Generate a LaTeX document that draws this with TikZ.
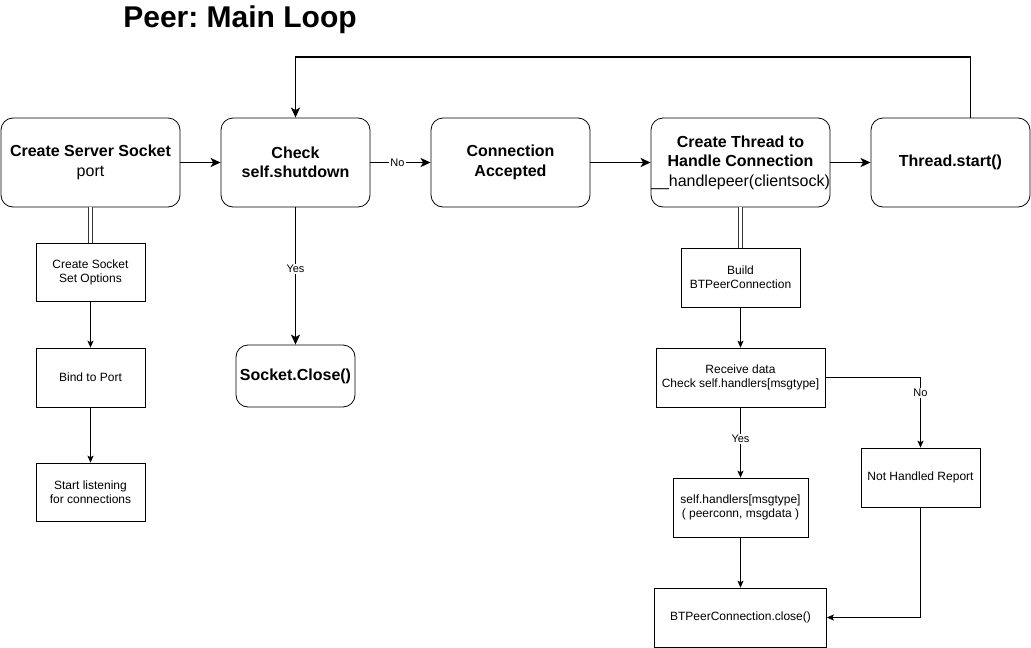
\documentclass[tikz,border=0pt]{standalone}
\usepackage{fontspec}
\setmainfont{Liberation Sans}
\usetikzlibrary{arrows.meta,positioning}

\begin{document}
\begin{tikzpicture}[x=1pt,y=-1pt,on grid,
   big/.style={draw,rounded corners=12pt,inner sep=0pt,minimum height=89pt,align=center,
     font=\fontsize{16}{19.5}\selectfont\bfseries,line width=0.8pt},
   small/.style={draw,inner sep=0pt,minimum height=59pt,align=center,
     font=\fontsize{12}{14}\selectfont,line width=0.7pt},
   bigarrow/.style={-{Stealth[length=10pt,width=9pt,inset=2.5pt]},line width=1.6pt},
   smallarrow/.style={-{Stealth[length=7pt,width=6pt,inset=1.5pt]},line width=0.8pt},
   dbl/.style={double,double distance=2.4pt,line width=0.9pt,draw=black!80},
   lbl/.style={fill=white,inner sep=1pt,font=\fontsize{11}{13}\selectfont}]
   \useasboundingbox (0,0) rectangle (1031,648);
   % title
   \node (title) at (240,19.5) {\fontsize{30}{34}\selectfont\bfseries\frenchspacing Peer: Main Loop};
   % main loop row
   \node[big,minimum width=179pt] (css) at (90.5,162.5) {Create Server Socket\\\mdseries port};
   \node[big,minimum width=149pt] (chk) [right=205pt of css] {Check\\self.shutdown};
   \node[big,minimum width=159pt] (conn) [right=215pt of chk] {Connection\\Accepted};
   \node[big,minimum width=179pt] (thr) [right=230pt of conn] {Create Thread to\\Handle Connection\\\mdseries\_\_handlepeer(clientsock)};
   \node[big,minimum width=159pt] (start) [right=210pt of thr] {Thread.start()};
   \node[big,minimum width=119pt,minimum height=62pt] (close) [below=213.5pt of chk] {Socket.Close()};
   % server socket setup
   \node[small,minimum width=109pt,minimum height=58pt] (opts) [below=109.5pt of css] {Create Socket\\Set Options};
   \node[small,minimum width=109pt] (bind) [below=105.5pt of opts] {Bind to Port};
   \node[small,minimum width=109pt,minimum height=58pt] (listen) [below=114.5pt of bind] {Start listening\\for connections};
   % peer handler
   \node[small,minimum width=119pt] (build) [below=115pt of thr] {Build\\BTPeerConnection};
   \node[small,minimum width=169pt] (recv) [below=100pt of build] {Receive data\\Check self.handlers[msgtype]};
   \node[small,minimum width=135pt] (hand) [below=130pt of recv] {self.handlers[msgtype]\\( peerconn, msgdata )};
   \node[small,minimum width=172pt] (bclose) [below=110pt of hand] {BTPeerConnection.close()};
   \node[small,minimum width=119pt] (nothr) [below right=100pt and 180pt of recv] {Not Handled Report};

   \draw[bigarrow] (css) -- (chk);
   \draw[bigarrow] (chk) -- node[lbl,pos=0.45] {No} (conn);
   \draw[bigarrow] (conn) -- (thr);
   \draw[bigarrow] (thr) -- (start);
   \coordinate (looptop) at (0,57);
   \draw[bigarrow] ([xshift=20pt]start.north) |- (looptop -| chk.north) -- (chk.north);
   \draw[bigarrow] (chk) -- node[lbl,pos=0.45] {Yes} (close);

   \draw[dbl] (css) -- (opts);
   \draw[smallarrow] (opts) -- (bind);
   \draw[smallarrow] (bind) -- (listen);

   \draw[dbl] (thr) -- (build);
   \draw[smallarrow] (build) -- (recv);
   \draw[smallarrow] (recv) -- node[lbl,pos=0.45] {Yes} (hand);
   \draw[smallarrow] (hand) -- (bclose);
   \draw[smallarrow] (recv.east) -| node[lbl,pos=0.61] {No} (nothr.north);
   \draw[smallarrow] (nothr.south) |- (bclose.east);
\end{tikzpicture}
\end{document}
